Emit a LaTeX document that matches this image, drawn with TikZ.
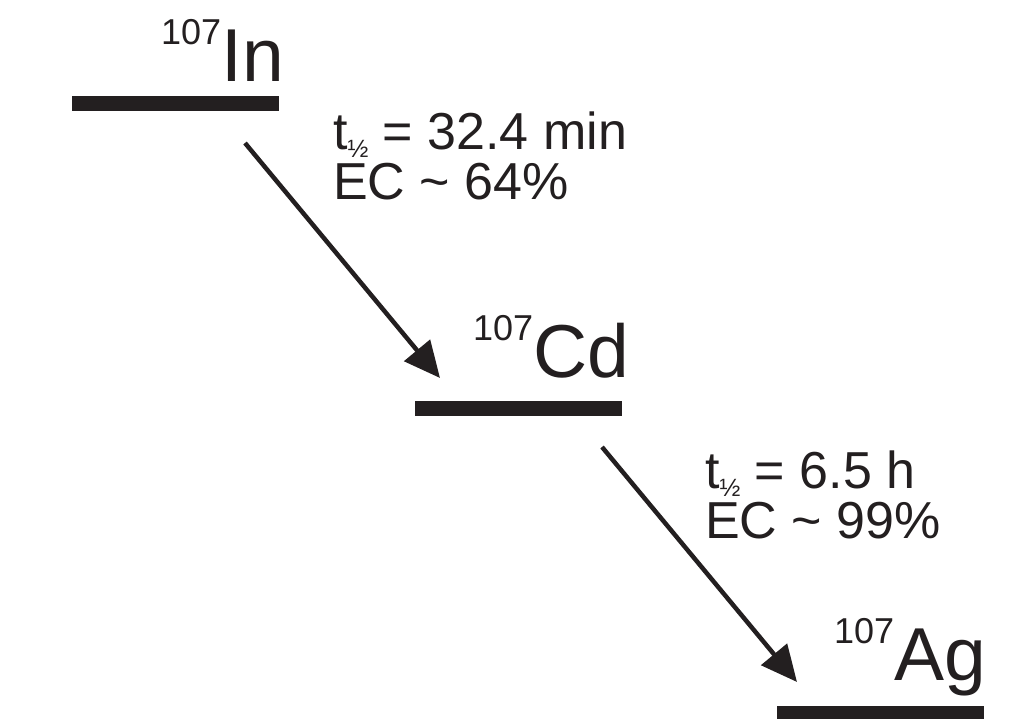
\documentclass[tikz,border=0pt]{standalone}
\usepackage{fontspec}
\setmainfont{Liberation Sans}
\usetikzlibrary{arrows.meta}
\definecolor{ink}{HTML}{231F20}
\newcommand\thalf{t\raisebox{-8pt}{\fontsize{25}{25}\selectfont ½}}
\newcommand\nucl[2]{\raisebox{37pt}{\fontsize{36}{36}\selectfont #1}#2}
\begin{document}
\begin{tikzpicture}[x=1pt,y=-1pt,
 levelbar/.style={fill=ink, draw=none, inner sep=0pt, minimum height=14.5pt, minimum width=207pt},
 decay/.style={draw=ink, line width=4.5pt, -{Triangle[length=36pt,width=33pt]}},
 nuc/.style={anchor=base west, inner sep=0pt, text=ink, font=\fontsize{75}{75}\selectfont},
 info/.style={anchor=base west, inner sep=0pt, align=left, text=ink, font=\fontsize{52}{50}\selectfont}]
\useasboundingbox (0,0) rectangle (1036,719);
% levels
\node[levelbar] (inbar) at (175.5,103.5) {};
\node[levelbar] (cdbar) at (518.5,408.5) {};
\node[levelbar] (agbar) at (880,713) {};
% nuclide labels
\node[nuc] (in) at (161,82) {\nucl{107}{In}};
\node[nuc] (cd) at (473,377) {\nucl{107}{Cd}};
\node[nuc] (ag) at (834,680) {\nucl{107}{Ag}};
% decay info (base anchor = baseline of last line)
\node[info] (info1) at (333,200) {\thalf{} = 32.4 min\\EC \textasciitilde{} 64\%};
\node[info] (info2) at (705,538) {\thalf{} = 6.5 h\\EC \textasciitilde{} 99\%};
% arrows
\coordinate (s1) at (245,143);
\coordinate (e1) at (440,378);
\coordinate (s2) at (602,447);
\coordinate (e2) at (797,682);
\draw[decay] (s1) -- (e1);
\draw[decay] (s2) -- (e2);
\end{tikzpicture}
\end{document}
